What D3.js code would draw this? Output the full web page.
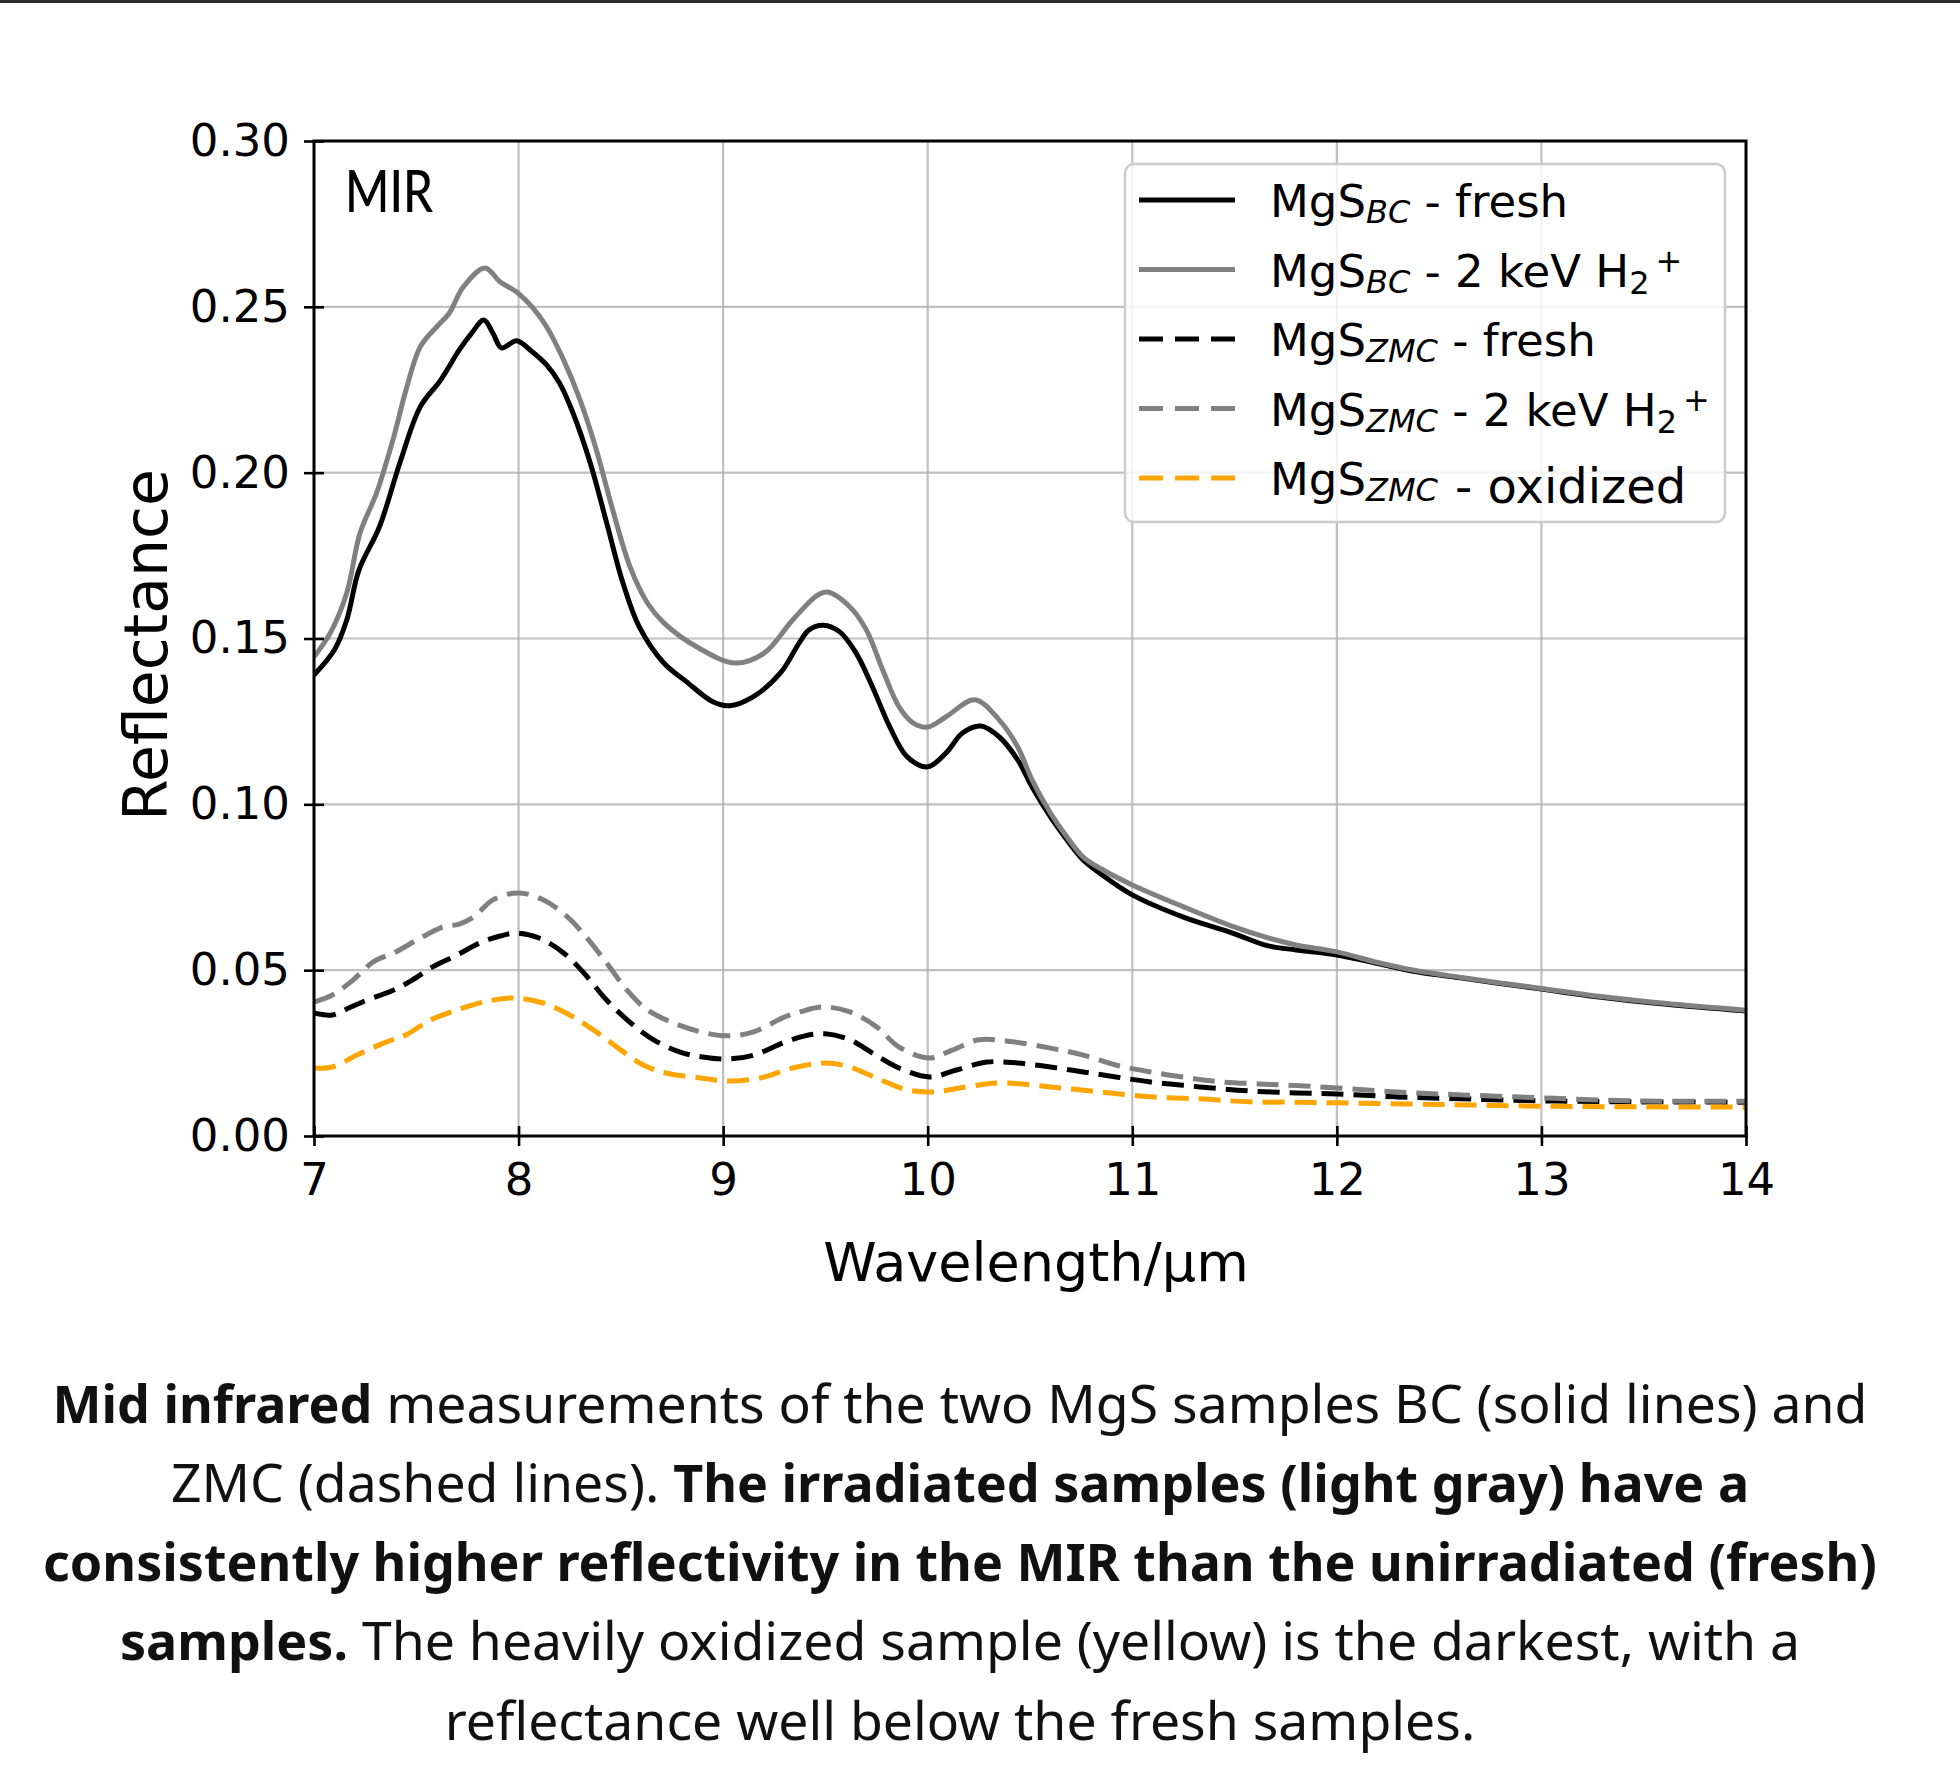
<!DOCTYPE html>
<html>
<head>
<meta charset="utf-8">
<script src="https://cdn.jsdelivr.net/npm/d3@7"></script>
<style>
  body { margin: 0; background: #fff; }
  svg { display: block; font-family: 'DejaVu Sans', sans-serif; }
  .grid line { stroke: #b0b0b0; stroke-opacity: 0.8; stroke-width: 2.2; }
  .caption { font-family: 'Noto Sans', sans-serif; font-size: 52px; fill: #111; }
</style>
</head>
<body>
<svg width="1960" height="1787"></svg>
<script>
// wavelength (µm), reflectance
const bcFresh = [[7.00,0.139],[7.10,0.1466],[7.16,0.1556],[7.22,0.1707],[7.32,0.1837],[7.42,0.203],[7.52,0.2199],[7.62,0.228],[7.71,0.237],[7.77,0.242],[7.83,0.246],[7.875,0.242],[7.917,0.2376],[7.99,0.2398],[8.056,0.237],[8.137,0.2325],[8.20,0.227],[8.266,0.218],[8.35,0.203],[8.43,0.185],[8.51,0.1668],[8.59,0.1535],[8.71,0.1426],[8.82,0.137],[8.95,0.1309],[9.03,0.1297],[9.146,0.1324],[9.28,0.1396],[9.375,0.149],[9.42,0.1526],[9.49,0.154],[9.57,0.152],[9.65,0.1456],[9.73,0.1354],[9.815,0.1233],[9.90,0.1143],[10.0,0.1113],[10.09,0.1155],[10.17,0.1215],[10.26,0.1236],[10.35,0.1203],[10.44,0.1134],[10.51,0.1052],[10.60,0.0962],[10.68,0.0893],[10.76,0.0832],[10.84,0.0793],[11.0,0.0727],[11.25,0.066],[11.49,0.0612],[11.66,0.0574],[11.80,0.0561],[12.0,0.0546],[12.2,0.052],[12.39,0.0495],[12.61,0.0476],[12.78,0.0461],[13.0,0.0443],[13.27,0.042],[13.6,0.0398],[14.0,0.0377]];

const bcIrradiated = [[7.00,0.1445],[7.08,0.1517],[7.16,0.1637],[7.225,0.1818],[7.306,0.1939],[7.39,0.2108],[7.45,0.225],[7.52,0.238],[7.60,0.244],[7.66,0.248],[7.73,0.256],[7.836,0.2617],[7.91,0.2575],[7.99,0.2545],[8.07,0.2497],[8.137,0.244],[8.22,0.234],[8.30,0.222],[8.38,0.2069],[8.46,0.1888],[8.545,0.1716],[8.63,0.1607],[8.71,0.1547],[8.87,0.1475],[9.06,0.1426],[9.2,0.1456],[9.34,0.1556],[9.46,0.163],[9.51,0.164],[9.62,0.1595],[9.70,0.1526],[9.78,0.1405],[9.86,0.1294],[9.93,0.1245],[10.0,0.1233],[10.09,0.1264],[10.23,0.1315],[10.35,0.1254],[10.44,0.1173],[10.51,0.1074],[10.60,0.0974],[10.68,0.0902],[10.76,0.0841],[10.84,0.0808],[11.0,0.0757],[11.25,0.0691],[11.49,0.0632],[11.66,0.0598],[11.8,0.0576],[12.0,0.0555],[12.2,0.0523],[12.39,0.0498],[12.61,0.0478],[12.78,0.0463],[13.0,0.0445],[13.27,0.0422],[13.6,0.04],[14.0,0.0379]];

const zmcFresh = [[7.0,0.0371],[7.09,0.0365],[7.18,0.0389],[7.26,0.041],[7.39,0.044],[7.48,0.047],[7.58,0.051],[7.70,0.0546],[7.81,0.0582],[7.91,0.0603],[7.99,0.0612],[8.10,0.0597],[8.22,0.0552],[8.32,0.0491],[8.43,0.041],[8.55,0.034],[8.66,0.029],[8.79,0.0253],[8.90,0.0238],[9.02,0.0232],[9.15,0.0244],[9.29,0.028],[9.40,0.0302],[9.50,0.0308],[9.62,0.029],[9.73,0.025],[9.86,0.0205],[10.01,0.0178],[10.14,0.0199],[10.29,0.0223],[10.44,0.022],[10.6,0.0208],[10.76,0.0193],[10.92,0.0178],[11.09,0.0163],[11.33,0.0148],[11.57,0.0136],[11.8,0.013],[12.0,0.0127],[12.29,0.0118],[12.61,0.0112],[13.0,0.0106],[13.43,0.0103],[14.0,0.0102]];

const zmcIrradiated = [[7.0,0.0404],[7.09,0.0425],[7.19,0.047],[7.29,0.0525],[7.40,0.0555],[7.52,0.0597],[7.63,0.063],[7.71,0.0639],[7.78,0.066],[7.875,0.0712],[8.0,0.0733],[8.12,0.0712],[8.24,0.066],[8.33,0.06],[8.43,0.0522],[8.53,0.044],[8.63,0.038],[8.76,0.034],[8.89,0.0314],[9.02,0.0302],[9.15,0.0314],[9.29,0.0356],[9.375,0.0374],[9.49,0.0389],[9.62,0.0374],[9.75,0.0329],[9.86,0.0268],[10.01,0.0235],[10.12,0.0259],[10.25,0.029],[10.39,0.0286],[10.6,0.0265],[10.76,0.0244],[10.92,0.0214],[11.09,0.0193],[11.28,0.0175],[11.44,0.0163],[11.62,0.0157],[11.8,0.0152],[12.0,0.0145],[12.29,0.0133],[12.61,0.0124],[13.0,0.0115],[13.43,0.0106],[14.0,0.0105]];

const zmcOxidized = [[7.0,0.0205],[7.09,0.0208],[7.21,0.0244],[7.34,0.028],[7.45,0.0305],[7.57,0.035],[7.70,0.038],[7.83,0.0404],[7.97,0.0416],[8.12,0.0401],[8.25,0.0365],[8.38,0.0314],[8.50,0.0259],[8.61,0.0214],[8.72,0.019],[8.89,0.0175],[9.03,0.0166],[9.18,0.0175],[9.34,0.0205],[9.5,0.022],[9.62,0.0208],[9.77,0.0169],[9.90,0.0139],[10.03,0.0133],[10.19,0.0148],[10.35,0.016],[10.6,0.0148],[10.84,0.0133],[11.09,0.0118],[11.33,0.0112],[11.57,0.0103],[11.82,0.0102],[12.0,0.01],[12.5,0.0095],[13.0,0.009],[13.5,0.0088],[14.0,0.0087]];

const xTicks = [7, 8, 9, 10, 11, 12, 13, 14];
const yTicks = [0, 0.05, 0.10, 0.15, 0.20, 0.25, 0.30];

const series = [
    { data: bcFresh, color: '#000000', dashed: false, sub: 'BC', rest: ' - fresh' },
    { data: bcIrradiated, color: '#808080', dashed: false, sub: 'BC', rest: ' - 2 keV H', ion: true },
    { data: zmcFresh, color: '#000000', dashed: true, sub: 'ZMC', rest: ' - fresh' },
    { data: zmcIrradiated, color: '#808080', dashed: true, sub: 'ZMC', rest: ' - 2 keV H', ion: true },
    { data: zmcOxidized, color: '#ffa500', dashed: true, sub: 'ZMC', rest: null }
];

const captionLines = [
    [['Mid infrared', true], [' measurements of the two MgS samples BC (solid lines) and', false]],
    [['ZMC (dashed lines). ', false], ['The irradiated samples (light gray) have a', true]],
    [['consistently higher reflectivity in the MIR than the unirradiated (fresh)', true]],
    [['samples.', true], [' The heavily oxidized sample (yellow) is the darkest, with a', false]],
    [['reflectance well below the fresh samples.', false]]
];

const svg = d3.select('svg');
const width = +svg.attr('width');

// thin dark rule along the top edge
svg.append('rect').attr('x', 0).attr('y', 0).attr('width', width).attr('height', 3).attr('fill', '#2a2a2a');

const margin = { top: 141, left: 314 };
const innerWidth = 1432;
const innerHeight = 995;

const xScale = d3.scaleLinear().domain([7, 14]).range([0, innerWidth]);
const yScale = d3.scaleLinear().domain([0, 0.30]).range([innerHeight, 0]);

const g = svg.append('g').attr('transform', `translate(${margin.left}, ${margin.top})`);

g.append('defs').append('clipPath').attr('id', 'plot-clip')
    .append('rect').attr('width', innerWidth).attr('height', innerHeight);

// grid
const grid = g.append('g').attr('class', 'grid');
grid.selectAll('.gx').data(xTicks).join('line')
    .attr('x1', d => xScale(d)).attr('x2', d => xScale(d))
    .attr('y1', 0).attr('y2', innerHeight);
grid.selectAll('.gy').data(yTicks).join('line')
    .attr('x1', 0).attr('x2', innerWidth)
    .attr('y1', d => yScale(d)).attr('y2', d => yScale(d));

// curves
const lineGenerator = d3.line()
    .x(d => xScale(d[0]))
    .y(d => yScale(d[1]))
    .curve(d3.curveCatmullRom.alpha(0.5));

const linesG = g.append('g').attr('clip-path', 'url(#plot-clip)');
series.forEach(s => {
    linesG.append('path')
        .attr('d', lineGenerator(s.data))
        .attr('fill', 'none')
        .attr('stroke', s.color)
        .attr('stroke-width', 5)
        .attr('stroke-linejoin', 'round')
        .attr('stroke-dasharray', s.dashed ? '22,10' : null);
});

// axes
const xAxis = d3.axisBottom(xScale).tickValues(xTicks).tickSize(10).tickPadding(17).tickFormat(d3.format('d'));
const yAxis = d3.axisLeft(yScale).tickValues(yTicks).tickSize(10).tickPadding(14).tickFormat(d3.format('.2f'));

const xAxisG = g.append('g').attr('transform', `translate(0, ${innerHeight})`).call(xAxis);
const yAxisG = g.append('g').call(yAxis);

[xAxisG, yAxisG].forEach(a => {
    a.select('.domain').remove();
    a.selectAll('.tick line').attr('stroke', '#000').attr('stroke-width', 2.6);
    a.selectAll('.tick text').attr('fill', '#000').attr('font-size', 45).attr('font-family', 'DejaVu Sans');
});
// ticks cross the spine (in and out)
xAxisG.selectAll('.tick line').attr('y1', -10).attr('y2', 10);
yAxisG.selectAll('.tick line').attr('x1', -10).attr('x2', 10);
xAxisG.selectAll('.tick text').attr('dy', '0.71em');

// spines
g.append('rect')
    .attr('width', innerWidth).attr('height', innerHeight)
    .attr('fill', 'none').attr('stroke', '#000').attr('stroke-width', 3);

// panel label
g.append('text')
    .attr('x', 31).attr('y', 71)
    .attr('font-family', 'Lato, sans-serif')
    .attr('font-size', 58)
    .attr('font-weight', 500)
    .attr('textLength', 88).attr('lengthAdjust', 'spacingAndGlyphs')
    .text('MIR');

// axis labels
svg.append('text')
    .attr('x', 1036).attr('y', 1281)
    .attr('text-anchor', 'middle')
    .attr('font-size', 54)
    .text('Wavelength/μm');

svg.append('text')
    .attr('transform', 'translate(167, 645) rotate(-90)')
    .attr('text-anchor', 'middle')
    .attr('font-size', 60)
    .text('Reflectance');

// legend
const legend = svg.append('g').attr('transform', 'translate(1125, 164)');
legend.append('rect')
    .attr('width', 600).attr('height', 358)
    .attr('rx', 9).attr('ry', 9)
    .attr('fill', '#ffffff').attr('fill-opacity', 0.8)
    .attr('stroke', '#cccccc').attr('stroke-width', 2.5);

series.forEach((s, i) => {
    const cy = 36 + i * 69.5;
    legend.append('line')
        .attr('x1', 14).attr('x2', 110)
        .attr('y1', cy).attr('y2', cy)
        .attr('stroke', s.color).attr('stroke-width', 5)
        .attr('stroke-dasharray', s.dashed ? '24,12' : null);

    const t = legend.append('text')
        .attr('x', 145).attr('y', cy + 17)
        .attr('font-size', 45);
    t.append('tspan').text('MgS');
    t.append('tspan').attr('font-size', 32).attr('font-style', 'italic').attr('dy', 6).text(s.sub);
    if (s.rest) {
        t.append('tspan').attr('dy', -6).attr('xml:space', 'preserve').text(s.rest);
        if (s.ion) {
            t.append('tspan').attr('font-size', 32).attr('dy', 7).text('2');
            t.append('tspan').attr('font-size', 32).attr('dx', 6).attr('dy', -22).text('+');
        }
    } else {
        legend.append('text')
            .attr('x', 330).attr('y', cy + 25)
            .attr('font-size', 48)
            .text('- oxidized');
    }
});

// caption
const baselines = [1423, 1502, 1581, 1660, 1740];
captionLines.forEach((parts, i) => {
    const t = svg.append('text')
        .attr('class', 'caption')
        .attr('x', 960).attr('y', baselines[i])
        .attr('text-anchor', 'middle')
        .attr('xml:space', 'preserve');
    parts.forEach(p => {
        t.append('tspan')
            .attr('font-weight', p[1] ? 700 : 400)
            .attr('font-size', p[1] ? 52 : 53.5)
            .text(p[0]);
    });
});
</script>
</body>
</html>
